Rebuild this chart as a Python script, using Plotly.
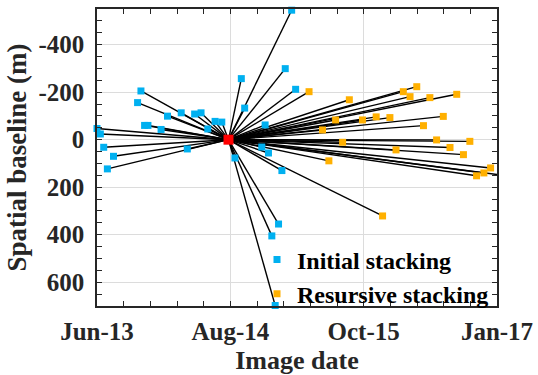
import plotly.graph_objects as go

# Master (reference) acquisition
master_date = "2014-08-10"
master_baseline = 0

# Initial stacking acquisitions
initial_dates = [
    "2013-06-05", "2013-06-16", "2013-06-27", "2013-07-29", "2013-07-09",
    "2013-10-27", "2013-10-16", "2014-01-22", "2014-03-08", "2014-04-21",
    "2014-05-12", "2013-11-08", "2013-11-19", "2014-01-01", "2014-03-28",
    "2014-06-03", "2014-06-27", "2014-07-19", "2014-09-21", "2014-10-02",
    "2014-08-31", "2014-12-08", "2014-12-19", "2015-02-01", "2015-03-05",
    "2015-02-12", "2015-03-18", "2015-01-21", "2014-12-30", "2015-01-10",
    "2014-11-27",
]
initial_baselines = [
    -47, -24, 32, 70, 123,
    -205, -156, -99, -113, -108,
    -113, -60, -60, -43, 39,
    -45, -77, -74, -257, -133,
    77, -62, 56, 130, -545,
    -299, -212, 355, 405, 698,
    31,
]

# Recursive stacking acquisitions
recursive_dates = [
    "2015-05-01", "2015-09-10", "2016-03-05", "2016-04-18", "2016-03-27",
    "2016-05-31", "2016-08-27", "2015-07-27", "2015-10-23", "2015-12-07",
    "2016-01-21", "2016-07-14", "2016-05-10", "2015-06-14", "2016-06-22",
    "2016-10-09", "2015-08-19", "2016-02-10", "2016-08-05", "2016-09-18",
    "2015-07-05", "2016-12-16", "2016-11-24", "2016-10-31", "2017-01-07",
    "2015-12-28",
]
recursive_baselines = [
    -202, -168, -202, -223, -181,
    -177, -191, -83, -83, -96,
    -93, -98, -59, -41, 1,
    7, 11, 43, 33, 63,
    89, 119, 140, 152, 147,
    321,
]

tick_dates = ["2013-06-05", "2014-08-16", "2015-10-27", "2017-01-06"]
tick_labels = ["Jun-13", "Aug-14", "Oct-15", "Jan-17"]
y_ticks = [-400, -200, 0, 200, 400, 600]

# connecting lines master -> each acquisition
lx, ly = [], []
for d, b in zip(initial_dates + recursive_dates, initial_baselines + recursive_baselines):
    lx += [master_date, d, None]
    ly += [master_baseline, b, None]

FONT = "Liberation Serif, Times New Roman, Times, serif"
TXT = "#262626"

def b(s):
    return "<b>" + s + "</b>"

fig = go.Figure()
fig.add_trace(go.Scatter(x=lx, y=ly, mode="lines", line=dict(color="black", width=1.4),
                         showlegend=False, hoverinfo="skip", cliponaxis=False))
fig.add_trace(go.Scatter(x=initial_dates, y=initial_baselines, mode="markers",
                         name=b("Initial stacking"), cliponaxis=False,
                         marker=dict(symbol="square", size=7, color="#00b0f0")))
fig.add_trace(go.Scatter(x=recursive_dates, y=recursive_baselines, mode="markers",
                         name=b("Resursive stacking"), cliponaxis=False,
                         marker=dict(symbol="square", size=7, color="#ffb000")))
fig.add_trace(go.Scatter(x=[master_date], y=[master_baseline], mode="markers",
                         showlegend=False, cliponaxis=False,
                         marker=dict(symbol="square", size=10, color="#ff0000")))

axis_common = dict(
    showline=True, linecolor=TXT, linewidth=1.5, mirror="ticks",
    ticks="inside", ticklen=5, tickwidth=1, tickcolor=TXT,
    showgrid=True, gridcolor="#dcdcdc", gridwidth=1.3, zeroline=False,
    tickfont=dict(family=FONT, size=25, color=TXT), automargin=False,
)

fig.update_xaxes(
    type="date", range=["2013-06-05", "2017-01-06"],
    tickmode="array", tickvals=tick_dates, ticktext=[b(t) for t in tick_labels],
    minor=dict(ticks="inside", ticklen=5, tickcolor=TXT, tick0="2013-06-05",
               dtick=7551360000, showgrid=False),
    ticklabelstandoff=2,
    title=dict(text=b("Image date"), font=dict(family=FONT, size=26, color=TXT),
               standoff=7),
    **axis_common,
)
fig.update_yaxes(
    range=[700, -550], tickmode="array", tickvals=y_ticks,
    ticktext=[b(str(v)) for v in y_ticks],
    minor=dict(ticks="inside", ticklen=5, tickcolor=TXT, dtick=50, showgrid=False),
    ticklabelstandoff=6,
    title=dict(text=b("Spatial baseline (m)"), font=dict(family=FONT, size=27, color=TXT),
               standoff=4),
    **axis_common,
)

fig.update_layout(
    width=538, height=375,
    margin=dict(l=97, r=41, t=9, b=69, autoexpand=False),
    plot_bgcolor="white", paper_bgcolor="white",
    legend=dict(x=0.40, y=-0.035, xanchor="left", yanchor="bottom",
                bgcolor="rgba(0,0,0,0)", borderwidth=0,
                font=dict(family=FONT, size=24, color="black"),
                tracegroupgap=0),
)

fig.write_html("out.html")
